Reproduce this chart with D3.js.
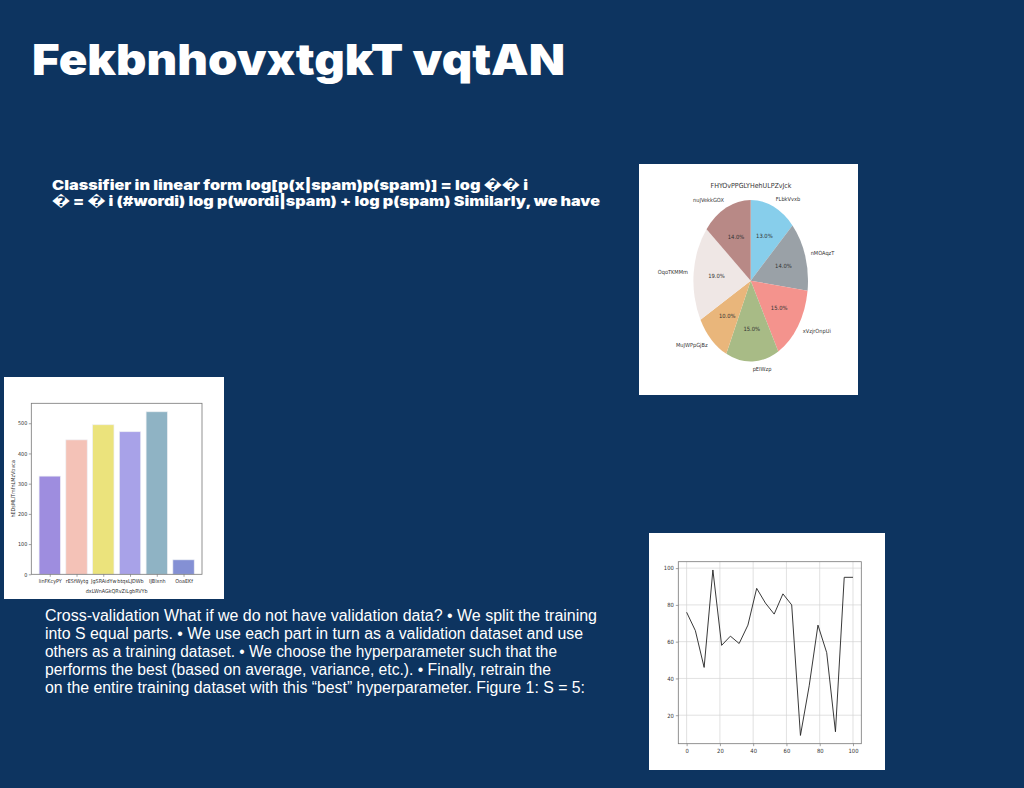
<!DOCTYPE html>
<html><head><meta charset="utf-8">
<script src="https://cdn.jsdelivr.net/npm/d3@7/dist/d3.min.js"></script>
<style>
html,body{margin:0;padding:0;background:#0d3460;}
svg{display:block;}
</style></head>
<body>
<svg id="c" width="1024" height="788"></svg>
<script>
// ---------- data ----------
const titleText = "FekbnhovxtgkT vqtAN";
const boldLines = [
  "Classifier in linear form log[p(x|spam)p(spam)] = log \uFFFD\uFFFD i",
  "\uFFFD = \uFFFD i (#wordi) log p(wordi|spam) + log p(spam) Similarly, we have"
];
const bodyLines = [
  "Cross-validation What if we do not have validation data? \u2022 We split the training",
  "into S equal parts. \u2022 We use each part in turn as a validation dataset and use",
  "others as a training dataset. \u2022 We choose the hyperparameter such that the",
  "performs the best (based on average, variance, etc.). \u2022 Finally, retrain the",
  "on the entire training dataset with this \u201cbest\u201d hyperparameter. Figure 1: S = 5:"
];

const pieTitle = "FHYOvPPGLYHehULPZvJck";
const pieLabels = ["FLbkVvxb","nMOAqzT","xVzjrOnpUi","pEIWzp","MuJWPpGjBz","OqoTKMMm","nuJVekkGOX"];
const pieValues = [13,14,15,15,10,19,14];
const pieColors = ["#87ceeb","#9aa1a7","#f4938d","#a8bb86","#e9b67b","#efe7e5","#b88986"];

const barCats = ["linFKcyPY","rESfWytg","JgSRAidYw","btqsLJDWb","IJBlxnh","OoaEKf"];
const barValues = [325,445,495,472,538,48];
const barColors = ["#9e8ddf","#f4c2b7","#ebe37c","#a8a2e8","#8fb3c4","#8490d4"];
const barXLabel = "dxLWnAGkQRvZiLgbRVYb";
const barYLabel = "hEDsMLlTmfnLMzVbvca";
const barYTicks = [0,100,200,300,400,500];

const lineX = [0,5.26,10.53,15.79,21.05,26.32,31.58,36.84,42.11,47.37,52.63,57.89,63.16,68.42,73.68,78.95,84.21,89.47,94.74,100];
const lineY = [76,66,46,99,58,63,59,69,89,81,75,86,80,9,36,69,54,11,95,95];
const lineXTicks = [0,20,40,60,80,100];
const lineYTicks = [20,40,60,80,100];

// ---------- drawing ----------
const svg = d3.select("#c");
const TXT = "#ffffff";
const SMALL = "'DejaVu Sans Condensed', 'DejaVu Sans', sans-serif";

// title
svg.append("text").attr("x",32).attr("y",75)
  .attr("font-family","Inter, 'DejaVu Sans', sans-serif").attr("font-weight",900)
  .attr("font-size",43).attr("fill",TXT)
  .attr("textLength",533).attr("lengthAdjust","spacingAndGlyphs")
  .text(titleText);

// bold paragraph
const boldW = [476, 548];
boldLines.forEach((t,i)=>{
  svg.append("text").attr("x",52).attr("y",190+16*i)
    .attr("font-family","Inter, 'DejaVu Sans', sans-serif").attr("font-weight",900)
    .attr("font-size",13.5).attr("fill",TXT)
    .attr("textLength",boldW[i]).attr("lengthAdjust","spacingAndGlyphs")
    .text(t);
});

// regular paragraph
const bodyW = [552, 538, 512, 506, 540];
bodyLines.forEach((t,i)=>{
  svg.append("text").attr("x",45).attr("y",621+18*i)
    .attr("font-family","'Liberation Sans', Arial, sans-serif")
    .attr("font-size",16).attr("fill",TXT)
    .attr("textLength",bodyW[i]).attr("lengthAdjust","spacingAndGlyphs")
    .text(t);
});

// ---------- pie chart ----------
(function(){
  const g = svg.append("g");
  g.append("rect").attr("x",639).attr("y",164).attr("width",219).attr("height",231).attr("fill","#fff");
  g.append("text").attr("x",751).attr("y",188).attr("text-anchor","middle")
    .attr("font-family",SMALL).attr("font-size",7).attr("fill","#333").text(pieTitle);
  const cx=750.7, cy=280.7, rx=57.3, ry=80.8;
  const pie = d3.pie().sort(null).value(d=>d)(pieValues);
  const arc = d3.arc().innerRadius(0).outerRadius(rx);
  const pg = g.append("g").attr("transform",`translate(${cx},${cy}) scale(1,${ry/rx})`);
  pg.selectAll("path").data(pie).join("path")
    .attr("d",arc).attr("fill",(d,i)=>pieColors[i]);
  pie.forEach((d,i)=>{
    const a=(d.startAngle+d.endAngle)/2;
    const sx=Math.sin(a), sy=-Math.cos(a);
    g.append("text").attr("x",cx+1.1*rx*sx).attr("y",cy+1.1*ry*sy)
      .attr("dy","0.35em").attr("text-anchor",sx>=0?"start":"end")
      .attr("font-family",SMALL).attr("font-size",5.6).attr("fill","#333")
      .text(pieLabels[i]);
    g.append("text").attr("x",cx+0.6*rx*sx).attr("y",cy+0.6*ry*sy)
      .attr("dy","0.35em").attr("text-anchor","middle")
      .attr("font-family",SMALL).attr("font-size",5.8).attr("fill","#333")
      .text(d3.format(".1f")(pieValues[i]/d3.sum(pieValues)*100)+"%");
  });
})();

// ---------- bar chart ----------
(function(){
  const g = svg.append("g");
  g.append("rect").attr("x",4).attr("y",377).attr("width",220).attr("height",222).attr("fill","#fff");
  const L=31.3,R=202,T=403.3,B=574.3;
  const x = d3.scaleLinear().domain([-0.69,5.69]).range([L,R]);
  const y = d3.scaleLinear().domain([0,566]).range([B,T]);
  g.selectAll("rect.bar").data(barValues).join("rect").attr("class","bar")
    .attr("x",(d,i)=>x(i-0.4)).attr("width",x(0.8)-x(0))
    .attr("y",d=>y(d)).attr("height",d=>B-y(d))
    .attr("fill",(d,i)=>barColors[i]).attr("stroke","#eef0f4").attr("stroke-width",0.7);
  const ya = d3.axisLeft(y).tickValues(barYTicks).tickSize(2.5).tickPadding(1.5);
  const yg = g.append("g").attr("transform",`translate(${L},0)`).call(ya);
  const xa = d3.axisBottom(x).tickValues(d3.range(barCats.length)).tickFormat(i=>barCats[i]).tickSize(2.5).tickPadding(2);
  const xg = g.append("g").attr("transform",`translate(0,${B})`).call(xa);
  [yg,xg].forEach(a=>{
    a.select(".domain").remove();
    a.selectAll("line").attr("stroke","#444").attr("stroke-width",0.5);
    a.selectAll("text").attr("font-family",SMALL).attr("font-size",5.4).attr("fill","#333");
  });
  g.append("rect").attr("x",L).attr("y",T).attr("width",R-L).attr("height",B-T)
    .attr("fill","none").attr("stroke","#777").attr("stroke-width",0.8);
  g.append("text").attr("x",(L+R)/2).attr("y",592.5).attr("text-anchor","middle")
    .attr("font-family",SMALL).attr("font-size",5.4).attr("fill","#333").text(barXLabel);
  g.append("text").attr("transform",`translate(15,${(T+B)/2}) rotate(-90)`).attr("text-anchor","middle")
    .attr("font-family",SMALL).attr("font-size",5.4).attr("fill","#333").text(barYLabel);
})();

// ---------- line chart ----------
(function(){
  const g = svg.append("g");
  g.append("rect").attr("x",649).attr("y",533).attr("width",236).attr("height",237).attr("fill","#fff");
  const L=678.3,R=861.3,T=561.7,B=743.7;
  const x = d3.scaleLinear().domain([-5,105]).range([L,R]);
  const y = d3.scaleLinear().domain([4.5,103.5]).range([B,T]);
  // grid
  g.selectAll("line.gx").data(lineXTicks).join("line").attr("class","gx")
    .attr("x1",d=>x(d)).attr("x2",d=>x(d)).attr("y1",T).attr("y2",B)
    .attr("stroke","#d4d4d4").attr("stroke-width",0.7);
  g.selectAll("line.gy").data(lineYTicks).join("line").attr("class","gy")
    .attr("y1",d=>y(d)).attr("y2",d=>y(d)).attr("x1",L).attr("x2",R)
    .attr("stroke","#d4d4d4").attr("stroke-width",0.7);
  const line = d3.line().x((d,i)=>x(lineX[i])).y(d=>y(d));
  g.append("path").datum(lineY).attr("d",line).attr("fill","none")
    .attr("stroke","#222").attr("stroke-width",0.9);
  const ya = d3.axisLeft(y).tickValues(lineYTicks).tickSize(2.5).tickPadding(2);
  const yg = g.append("g").attr("transform",`translate(${L},0)`).call(ya);
  const xa = d3.axisBottom(x).tickValues(lineXTicks).tickSize(2.5).tickPadding(3);
  const xg = g.append("g").attr("transform",`translate(0,${B})`).call(xa);
  [yg,xg].forEach(a=>{
    a.select(".domain").remove();
    a.selectAll("line").attr("stroke","#444").attr("stroke-width",0.5);
    a.selectAll("text").attr("font-family",SMALL).attr("font-size",5.8).attr("fill","#333");
  });
  g.append("rect").attr("x",L).attr("y",T).attr("width",R-L).attr("height",B-T)
    .attr("fill","none").attr("stroke","#777").attr("stroke-width",0.8);
})();
</script>
</body></html>
